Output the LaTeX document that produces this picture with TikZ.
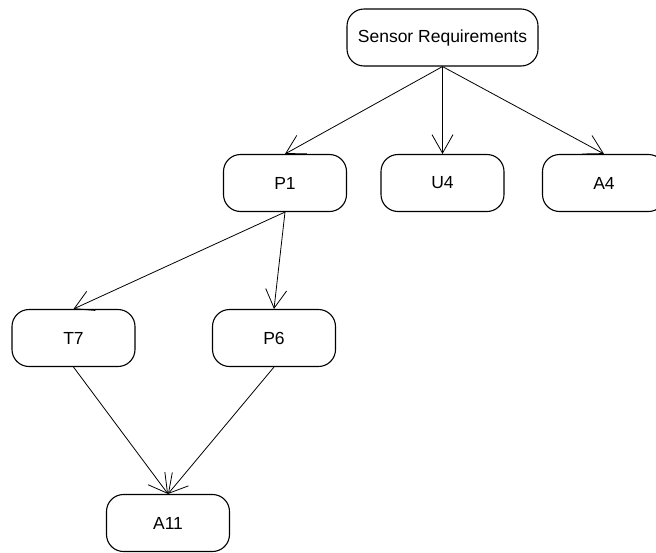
\documentclass[tikz,border=0pt]{standalone}
\usepackage{fontspec}
\setmainfont{Liberation Sans}
\usetikzlibrary{arrows.meta}
\begin{document}
\begin{tikzpicture}[x=1pt,y=-1pt,
  box/.style={draw=black, line width=1.1pt, rounded corners=17pt, fill=white,
    minimum width=123pt, minimum height=57pt, inner sep=0pt,
    font=\fontsize{17.5}{21}\selectfont},
  link/.style={line width=0.8pt, -{Straight Barb[length=18.5pt,width=21pt]}}]
\useasboundingbox (0,0) rectangle (656,552);
\clip (0,0) rectangle (656,552);
% requirement tree
\node[box, minimum width=191pt] (sr) at (442.5,37.5) {Sensor Requirements};
\node[box] (p1) at (285,183) {P1};
\node[box] (u4) at (442.5,183) {U4};
\node[box] (a4) at (604,183) {A4};
\node[box] (t7) at (73.5,338) {T7};
\node[box] (p6) at (274,338) {P6};
\node[box] (a11) at (168,523) {A11};
% dependencies
\draw[link] (sr.south) -- (p1.north);
\draw[link] (sr.south) -- (u4.north);
\draw[link] (sr.south) -- (a4.north);
\draw[link] (p1.south) -- (t7.north);
\draw[link] (p1.south) -- (p6.north);
\draw[link] (t7.south) -- (a11.north);
\draw[link] (p6.south) -- (a11.north);
\end{tikzpicture}
\end{document}
